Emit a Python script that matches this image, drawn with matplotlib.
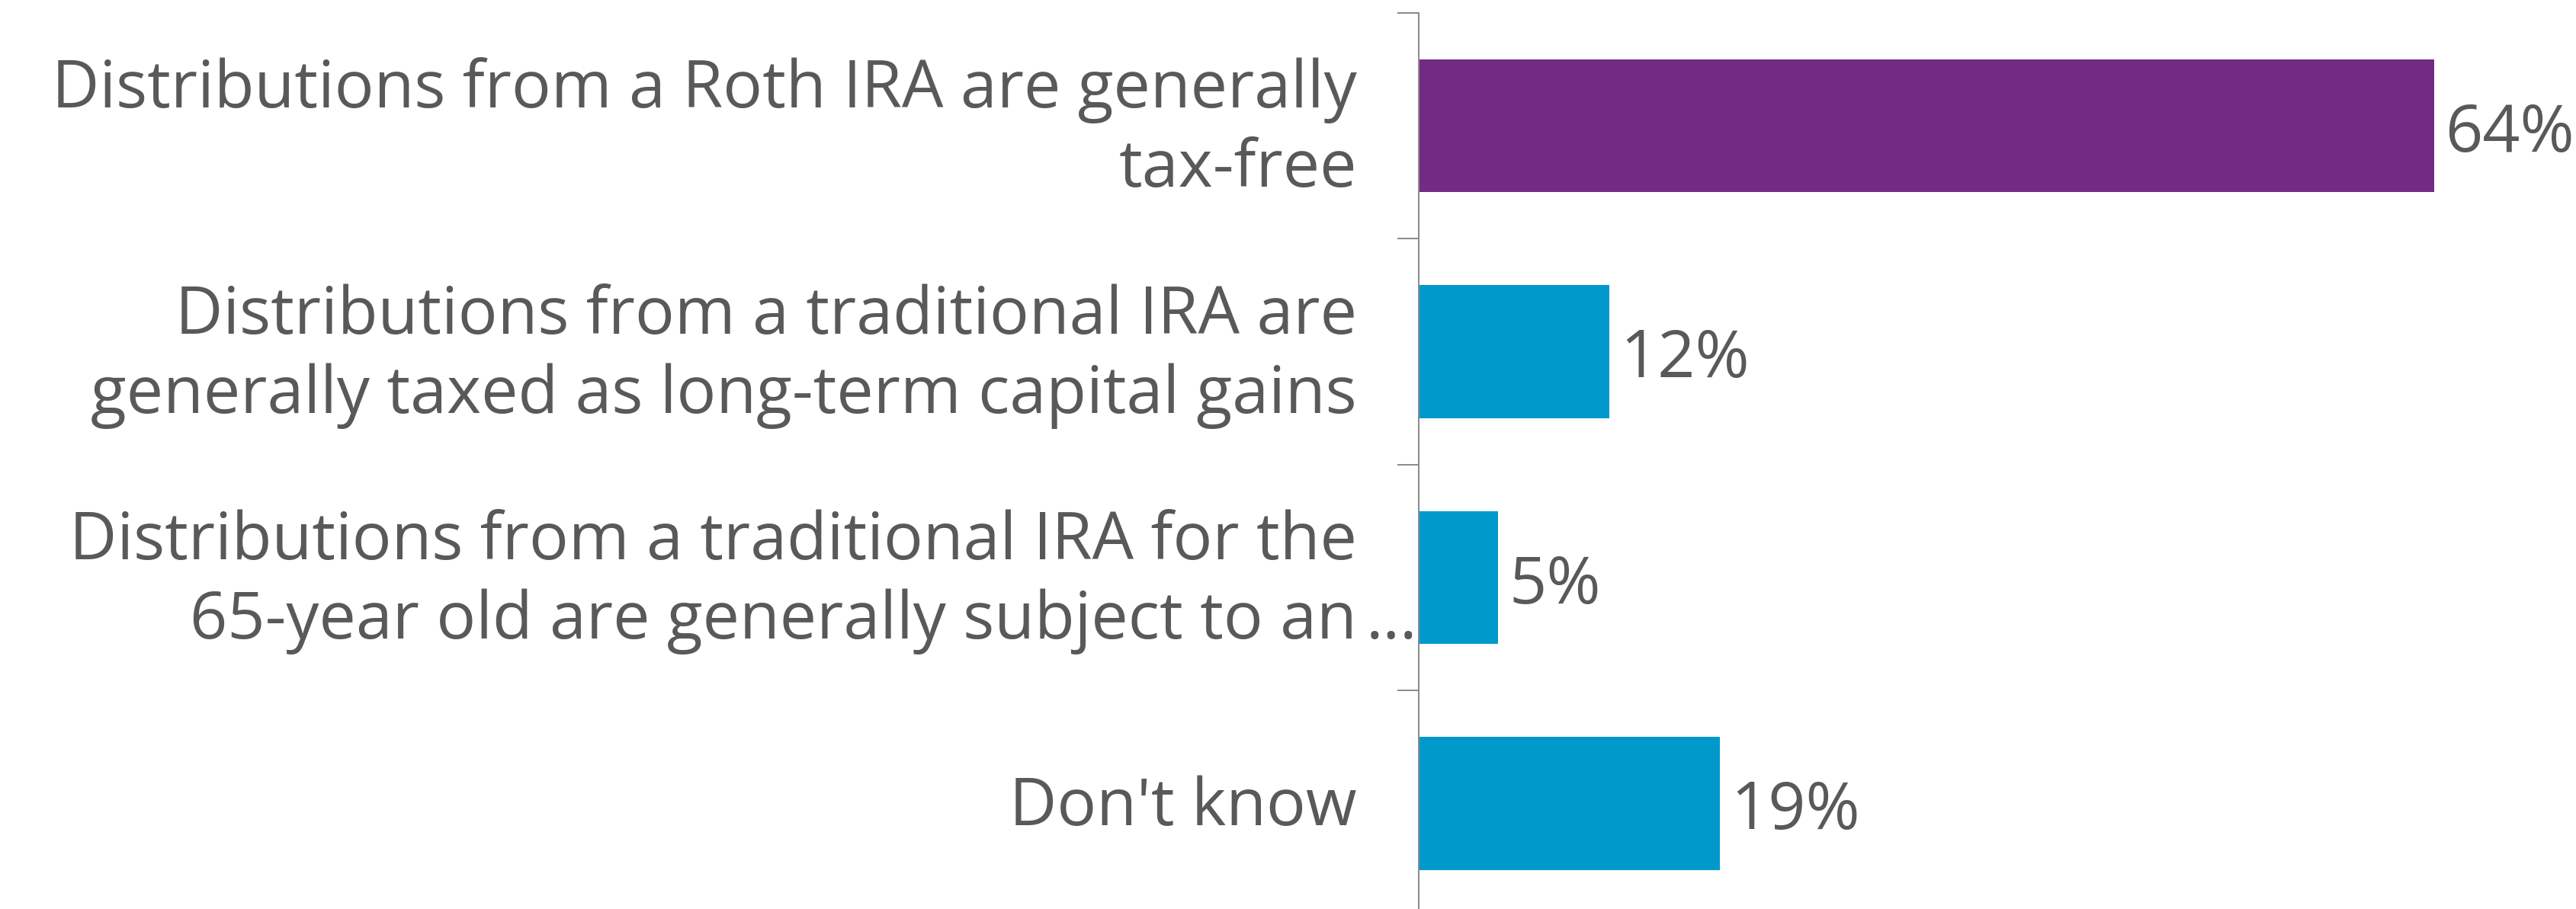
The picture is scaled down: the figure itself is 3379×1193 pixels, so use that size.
import matplotlib
matplotlib.use("Agg")
import matplotlib.pyplot as plt

# Survey answers and shares (%)
categories = [
    "Distributions from a Roth IRA are generally\ntax-free",
    "Distributions from a traditional IRA are\ngenerally taxed as long-term capital gains",
    "Distributions from a traditional IRA for the\n65-year old are generally subject to an\u2026",
    "Don't know",
]
values = [64, 12, 5, 19]
value_labels = ["64%", "12%", "5%", "19%"]
bar_colors = ["#722B85", "#0099CC", "#0099CC", "#0099CC"]

TEXT_COLOR = "#595959"
AXIS_COLOR = "#8C8C8C"
FONT = ["Open Sans", "DejaVu Sans"]
FONT_SIZE = 62

W, H, DPI = 3380, 1193, 100
fig = plt.figure(figsize=(W / DPI, H / DPI), dpi=DPI)
fig.patch.set_facecolor("white")

ax = fig.add_axes([1861 / W, -0.00817, 0.43104, 0.99413])
ax.set_facecolor("none")

ypos = list(range(len(categories)))
ax.barh(ypos, values, height=0.587, color=bar_colors, linewidth=0)
ax.set_xlim(0, 70)
ax.set_ylim(len(categories) - 0.5, -0.5)

for side in ("top", "right", "bottom"):
    ax.spines[side].set_visible(False)
ax.spines["left"].set_color(AXIS_COLOR)
ax.spines["left"].set_linewidth(1.44)

ax.set_xticks([])
ax.set_yticks([])
ax.set_yticks([i - 0.5 for i in range(len(categories) + 1)], minor=True)
ax.tick_params(axis="y", which="minor", length=20.2, width=1.44,
               color=AXIS_COLOR, labelleft=False)

# Category labels, one line at a time, right-aligned left of the axis
line_gap = 104
for i, label in enumerate(categories):
    lines = label.split("\n")
    n = len(lines)
    for k, line in enumerate(lines):
        dy = -(28.5 + (k - (n - 1) / 2) * line_gap)
        tail = ""
        if line.endswith("\u2026"):
            line, tail = line[:-1], "..."
        ax.annotate(line, xy=(0, i), xytext=(-81, dy),
                    textcoords="offset pixels", ha="right", va="baseline",
                    fontsize=FONT_SIZE, family=FONT,
                    color=TEXT_COLOR, annotation_clip=False)
        if tail:
            ax.annotate(tail, xy=(0, i), xytext=(-2, dy),
                        textcoords="offset pixels", ha="right", va="baseline",
                        fontsize=FONT_SIZE, family=FONT,
                        color=TEXT_COLOR, annotation_clip=False)

# Value labels at the bar ends
for i, (v, txt) in enumerate(zip(values, value_labels)):
    ax.annotate(txt, xy=(v, i), xytext=(14, -34),
                textcoords="offset pixels", ha="left", va="baseline",
                fontsize=FONT_SIZE, family=FONT,
                color=TEXT_COLOR, annotation_clip=False)

fig.savefig("out.png", dpi=DPI, facecolor="white")
